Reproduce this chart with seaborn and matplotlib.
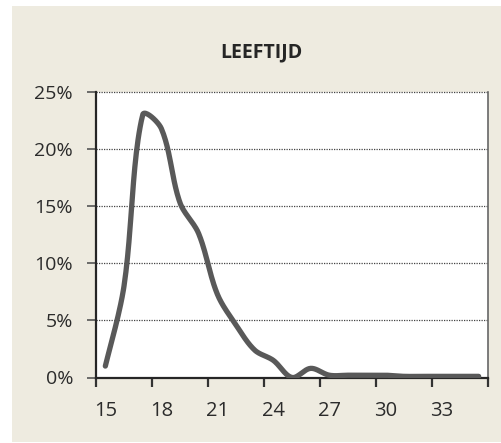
import numpy as np
import pandas as pd
import matplotlib
matplotlib.use("Agg")
import matplotlib.pyplot as plt
from matplotlib.patches import Rectangle
import seaborn as sns

# ---- data ----
ages = list(range(15, 36))
share = [1.0, 8.0, 23.0, 21.8, 15.3, 12.6, 7.3, 4.6, 2.4, 1.5, 0.0, 0.8,
         0.2, 0.2, 0.2, 0.2, 0.1, 0.1, 0.1, 0.1, 0.1]
tick_labels = ["15", "18", "21", "24", "27", "30", "33"]
title = "LEEFTIJD"

sns.set_theme(style="white")
plt.rcParams["font.family"] = ["Open Sans", "DejaVu Sans"]

BG = "#EEEBE0"
LINE = "#595959"

fig = plt.figure(figsize=(5.01, 4.43), dpi=100, facecolor="white")
fig.patches.append(Rectangle((12 / 501, 1 / 443), 1, (443 - 7) / 443,
                             transform=fig.transFigure, facecolor=BG,
                             edgecolor="none", zorder=-10))

W, H = 501, 443
L, R, T, B = 96, 488, 92, 377.5
ax = fig.add_axes([L / W, (H - B) / H, (R - L) / W, (B - T) / H])
ax.set_facecolor("white")

pos = np.arange(len(ages)) + 0.5
vals = np.array(share, dtype=float)

# Excel-like smoothed line: cubic Bezier with chord-length scaled tangents,
# computed in pixel space then mapped back to data space.
xpx = (R - L) / len(ages)
ypx = (B - T) / 25.0

def smooth(x, y, n=24):
    P = np.column_stack([x * xpx, y * ypx])
    m = len(P)
    d = np.linalg.norm(np.diff(P, axis=0), axis=1)
    cin = np.zeros_like(P)
    cout = np.zeros_like(P)
    for i in range(m):
        if i == 0:
            Tg = P[1] - P[0]
            dp, dn = d[0], d[0]
        elif i == m - 1:
            Tg = P[-1] - P[-2]
            dp, dn = d[-1], d[-1]
        else:
            Tg = P[i + 1] - P[i - 1]
            dp, dn = d[i - 1], d[i]
        s = dp + dn if dp + dn > 0 else 1
        cout[i] = P[i] + Tg * dn / s / 3
        cin[i] = P[i] - Tg * dp / s / 3
    t = np.linspace(0, 1, n, endpoint=False)[:, None]
    pts = []
    for i in range(m - 1):
        p0, p1, p2, p3 = P[i], cout[i], cin[i + 1], P[i + 1]
        pts.append((1 - t) ** 3 * p0 + 3 * (1 - t) ** 2 * t * p1 +
                   3 * (1 - t) * t ** 2 * p2 + t ** 3 * p3)
    pts.append(P[-1][None, :])
    pts = np.vstack(pts)
    return pts[:, 0] / xpx, pts[:, 1] / ypx

sx, sy = smooth(pos, vals)
df = pd.DataFrame({"x": sx, "y": sy})
sns.lineplot(data=df, x="x", y="y", ax=ax, color=LINE, linewidth=3.8,
             sort=False, estimator=None, zorder=3,
             solid_capstyle="round", solid_joinstyle="round")

ax.set_xlim(0, len(ages))
ax.set_ylim(0, 25)
ax.set_xlabel("")
ax.set_ylabel("")

for yv in [5, 10, 15, 20, 25]:
    ax.axhline(yv, color="#444444", linewidth=0.9, linestyle=(0, (1, 1)),
               zorder=1, clip_on=False)

ax.set_yticks([0, 5, 10, 15, 20, 25])
ax.set_yticklabels([f"{v}%" for v in [0, 5, 10, 15, 20, 25]])

ax.set_xticks(np.arange(0, len(ages) + 1, 3))
ax.set_xticklabels([])
ax.set_xticks(np.arange(0, len(ages), 3) + 0.5, minor=True)
ax.set_xticklabels(tick_labels, minor=True)
ax.tick_params(axis="x", which="major", direction="out", length=6.5, width=1.6,
               color="#333333", bottom=True)
ax.tick_params(axis="x", which="minor", length=0, pad=17, labelsize=14.5,
               labelcolor="#2b2b2b")
ax.tick_params(axis="y", direction="out", length=6.5, width=1.2, color="#555555",
               left=True, pad=10, labelsize=14, labelcolor="#2b2b2b")

for s in ["left", "bottom"]:
    ax.spines[s].set_color("#262626")
    ax.spines[s].set_linewidth(1.6)
ax.spines["right"].set_color("#666666")
ax.spines["right"].set_linewidth(1.2)
ax.spines["top"].set_visible(False)

fig.text(261 / W, 1 - 52 / H, title, ha="center", va="center",
         fontsize=14, fontweight="bold", color="#262626")

fig.savefig("out.png", dpi=100, facecolor="white")
